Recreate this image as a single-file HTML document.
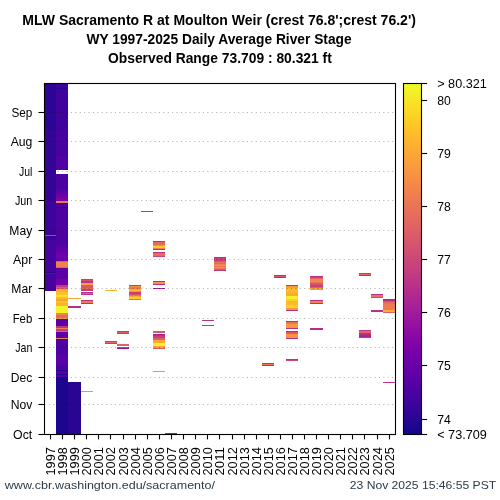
<!DOCTYPE html>
<html><head><meta charset="utf-8"><style>
html,body{margin:0;padding:0;background:#fff;width:500px;height:500px;overflow:hidden}
svg{display:block;will-change:transform}
text{font-family:"Liberation Sans", sans-serif}
</style></head><body><svg width="500" height="500" viewBox="0 0 500 500" font-family='"Liberation Sans", sans-serif'><rect x="45" y="84" width="11" height="46" fill="#2c0594" shape-rendering="crispEdges"/>
<rect x="45" y="130" width="11" height="70" fill="#330597" shape-rendering="crispEdges"/>
<rect x="45" y="200" width="11" height="40" fill="#3c049b" shape-rendering="crispEdges"/>
<rect x="45" y="240" width="11" height="32" fill="#46039f" shape-rendering="crispEdges"/>
<rect x="45" y="272" width="11" height="1" fill="#280592" shape-rendering="crispEdges"/>
<rect x="45" y="273" width="11" height="1" fill="#6700a8" shape-rendering="crispEdges"/>
<rect x="45" y="274" width="11" height="17" fill="#46039f" shape-rendering="crispEdges"/>
<rect x="45" y="235" width="11" height="1" fill="#bf3984" shape-rendering="crispEdges"/>
<rect x="56" y="84" width="12" height="4" fill="#3c049b" shape-rendering="crispEdges"/>
<rect x="56" y="88" width="12" height="1" fill="#280592" shape-rendering="crispEdges"/>
<rect x="56" y="89" width="12" height="41" fill="#3f049c" shape-rendering="crispEdges"/>
<rect x="56" y="130" width="12" height="26" fill="#46039f" shape-rendering="crispEdges"/>
<rect x="56" y="156" width="12" height="14" fill="#5002a2" shape-rendering="crispEdges"/>
<rect x="56" y="174" width="12" height="15" fill="#4c02a1" shape-rendering="crispEdges"/>
<rect x="56" y="189" width="12" height="1" fill="#5102a3" shape-rendering="crispEdges"/>
<rect x="56" y="190" width="12" height="1" fill="#5601a4" shape-rendering="crispEdges"/>
<rect x="56" y="191" width="12" height="1" fill="#5b01a5" shape-rendering="crispEdges"/>
<rect x="56" y="192" width="12" height="1" fill="#6001a6" shape-rendering="crispEdges"/>
<rect x="56" y="193" width="12" height="1" fill="#6400a7" shape-rendering="crispEdges"/>
<rect x="56" y="194" width="12" height="1" fill="#6900a8" shape-rendering="crispEdges"/>
<rect x="56" y="195" width="12" height="1" fill="#6e00a8" shape-rendering="crispEdges"/>
<rect x="56" y="196" width="12" height="1" fill="#7201a8" shape-rendering="crispEdges"/>
<rect x="56" y="197" width="12" height="1" fill="#7701a8" shape-rendering="crispEdges"/>
<rect x="56" y="198" width="12" height="1" fill="#7b02a8" shape-rendering="crispEdges"/>
<rect x="56" y="199" width="12" height="1" fill="#7e03a8" shape-rendering="crispEdges"/>
<rect x="56" y="200" width="12" height="1" fill="#8305a7" shape-rendering="crispEdges"/>
<rect x="56" y="201" width="12" height="2" fill="#ed7953" shape-rendering="crispEdges"/>
<rect x="56" y="203" width="12" height="4" fill="#5002a2" shape-rendering="crispEdges"/>
<rect x="56" y="207" width="12" height="1" fill="#20068f" shape-rendering="crispEdges"/>
<rect x="56" y="208" width="12" height="37" fill="#4c02a1" shape-rendering="crispEdges"/>
<rect x="56" y="245" width="12" height="1" fill="#5102a3" shape-rendering="crispEdges"/>
<rect x="56" y="246" width="12" height="1" fill="#5502a4" shape-rendering="crispEdges"/>
<rect x="56" y="247" width="12" height="1" fill="#5801a4" shape-rendering="crispEdges"/>
<rect x="56" y="248" width="12" height="1" fill="#5b01a5" shape-rendering="crispEdges"/>
<rect x="56" y="249" width="12" height="1" fill="#5e01a6" shape-rendering="crispEdges"/>
<rect x="56" y="250" width="12" height="1" fill="#6100a7" shape-rendering="crispEdges"/>
<rect x="56" y="251" width="12" height="1" fill="#6600a7" shape-rendering="crispEdges"/>
<rect x="56" y="252" width="12" height="1" fill="#6900a8" shape-rendering="crispEdges"/>
<rect x="56" y="253" width="12" height="1" fill="#6c00a8" shape-rendering="crispEdges"/>
<rect x="56" y="254" width="12" height="1" fill="#6f00a8" shape-rendering="crispEdges"/>
<rect x="56" y="255" width="12" height="1" fill="#7201a8" shape-rendering="crispEdges"/>
<rect x="56" y="256" width="12" height="1" fill="#7501a8" shape-rendering="crispEdges"/>
<rect x="56" y="257" width="12" height="1" fill="#7801a8" shape-rendering="crispEdges"/>
<rect x="56" y="258" width="12" height="3" fill="#6700a8" shape-rendering="crispEdges"/>
<rect x="56" y="261" width="12" height="1" fill="#d8576b" shape-rendering="crispEdges"/>
<rect x="56" y="262" width="12" height="5" fill="#f1814d" shape-rendering="crispEdges"/>
<rect x="56" y="267" width="12" height="1" fill="#de6164" shape-rendering="crispEdges"/>
<rect x="56" y="268" width="12" height="11" fill="#5c01a6" shape-rendering="crispEdges"/>
<rect x="56" y="279" width="12" height="6" fill="#7401a8" shape-rendering="crispEdges"/>
<rect x="56" y="285" width="12" height="2" fill="#bf3984" shape-rendering="crispEdges"/>
<rect x="56" y="287" width="12" height="2" fill="#db5c68" shape-rendering="crispEdges"/>
<rect x="56" y="289" width="12" height="1" fill="#fa9c3c" shape-rendering="crispEdges"/>
<rect x="56" y="290" width="12" height="2" fill="#fdac33" shape-rendering="crispEdges"/>
<rect x="56" y="292" width="12" height="3" fill="#fdc229" shape-rendering="crispEdges"/>
<rect x="56" y="295" width="12" height="2" fill="#f7e425" shape-rendering="crispEdges"/>
<rect x="56" y="297" width="12" height="2" fill="#feb82c" shape-rendering="crispEdges"/>
<rect x="56" y="299" width="12" height="2" fill="#fba139" shape-rendering="crispEdges"/>
<rect x="56" y="301" width="12" height="2" fill="#fdc229" shape-rendering="crispEdges"/>
<rect x="56" y="303" width="12" height="3" fill="#fdb22f" shape-rendering="crispEdges"/>
<rect x="56" y="306" width="12" height="7" fill="#f2f227" shape-rendering="crispEdges"/>
<rect x="56" y="313" width="12" height="2" fill="#f1814d" shape-rendering="crispEdges"/>
<rect x="56" y="315" width="12" height="3" fill="#e56a5d" shape-rendering="crispEdges"/>
<rect x="56" y="318" width="12" height="1" fill="#fba139" shape-rendering="crispEdges"/>
<rect x="56" y="319" width="12" height="7" fill="#5c01a6" shape-rendering="crispEdges"/>
<rect x="56" y="326" width="12" height="2" fill="#bb3488" shape-rendering="crispEdges"/>
<rect x="56" y="328" width="12" height="1" fill="#f1814d" shape-rendering="crispEdges"/>
<rect x="56" y="329" width="12" height="2" fill="#c33d80" shape-rendering="crispEdges"/>
<rect x="56" y="331" width="12" height="1" fill="#de6164" shape-rendering="crispEdges"/>
<rect x="56" y="332" width="12" height="6" fill="#5c01a6" shape-rendering="crispEdges"/>
<rect x="56" y="338" width="12" height="1" fill="#ef7c51" shape-rendering="crispEdges"/>
<rect x="56" y="339" width="12" height="16" fill="#4c02a1" shape-rendering="crispEdges"/>
<rect x="56" y="355" width="12" height="10" fill="#5901a5" shape-rendering="crispEdges"/>
<rect x="56" y="365" width="12" height="5" fill="#4c02a1" shape-rendering="crispEdges"/>
<rect x="56" y="370" width="12" height="1" fill="#280592" shape-rendering="crispEdges"/>
<rect x="56" y="371" width="12" height="3" fill="#5002a2" shape-rendering="crispEdges"/>
<rect x="56" y="374" width="12" height="1" fill="#280592" shape-rendering="crispEdges"/>
<rect x="56" y="375" width="12" height="2" fill="#5002a2" shape-rendering="crispEdges"/>
<rect x="56" y="377" width="12" height="57" fill="#1b068d" shape-rendering="crispEdges"/>
<rect x="68" y="298" width="13" height="1" fill="#fca636" shape-rendering="crispEdges"/>
<rect x="68" y="306" width="13" height="2" fill="#b32c8e" shape-rendering="crispEdges"/>
<rect x="68" y="382" width="13" height="52" fill="#280592" shape-rendering="crispEdges"/>
<rect x="81" y="279" width="12" height="1" fill="#c33d80" shape-rendering="crispEdges"/>
<rect x="81" y="280" width="12" height="1" fill="#d24f71" shape-rendering="crispEdges"/>
<rect x="81" y="281" width="12" height="2" fill="#bb3488" shape-rendering="crispEdges"/>
<rect x="81" y="283" width="12" height="2" fill="#fba139" shape-rendering="crispEdges"/>
<rect x="81" y="285" width="12" height="3" fill="#d8576b" shape-rendering="crispEdges"/>
<rect x="81" y="288" width="12" height="1" fill="#e76f5a" shape-rendering="crispEdges"/>
<rect x="81" y="289" width="12" height="2" fill="#c33d80" shape-rendering="crispEdges"/>
<rect x="81" y="292" width="12" height="1" fill="#b7318a" shape-rendering="crispEdges"/>
<rect x="81" y="293" width="12" height="1" fill="#e26561" shape-rendering="crispEdges"/>
<rect x="81" y="294" width="12" height="1" fill="#b7318a" shape-rendering="crispEdges"/>
<rect x="81" y="300" width="12" height="1" fill="#b7318a" shape-rendering="crispEdges"/>
<rect x="81" y="301" width="12" height="2" fill="#ed7953" shape-rendering="crispEdges"/>
<rect x="81" y="303" width="12" height="1" fill="#b7318a" shape-rendering="crispEdges"/>
<rect x="81" y="391" width="12" height="1" fill="#f79143" shape-rendering="crispEdges"/>
<rect x="105" y="290" width="12" height="1" fill="#fdaf31" shape-rendering="crispEdges"/>
<rect x="105" y="341" width="12" height="1" fill="#bf3984" shape-rendering="crispEdges"/>
<rect x="105" y="342" width="12" height="1" fill="#e56a5d" shape-rendering="crispEdges"/>
<rect x="105" y="343" width="12" height="1" fill="#c33d80" shape-rendering="crispEdges"/>
<rect x="117" y="331" width="12" height="1" fill="#bf3984" shape-rendering="crispEdges"/>
<rect x="117" y="332" width="12" height="1" fill="#de6164" shape-rendering="crispEdges"/>
<rect x="117" y="333" width="12" height="1" fill="#c33d80" shape-rendering="crispEdges"/>
<rect x="117" y="344" width="12" height="2" fill="#de6164" shape-rendering="crispEdges"/>
<rect x="117" y="347" width="12" height="1" fill="#cb4679" shape-rendering="crispEdges"/>
<rect x="117" y="348" width="12" height="1" fill="#9511a1" shape-rendering="crispEdges"/>
<rect x="129" y="285" width="12" height="1" fill="#bf3984" shape-rendering="crispEdges"/>
<rect x="129" y="286" width="12" height="1" fill="#f79143" shape-rendering="crispEdges"/>
<rect x="129" y="287" width="12" height="1" fill="#ea7457" shape-rendering="crispEdges"/>
<rect x="129" y="288" width="12" height="1" fill="#ed7953" shape-rendering="crispEdges"/>
<rect x="129" y="289" width="12" height="1" fill="#fca636" shape-rendering="crispEdges"/>
<rect x="129" y="290" width="12" height="1" fill="#febe2a" shape-rendering="crispEdges"/>
<rect x="129" y="291" width="12" height="1" fill="#f79143" shape-rendering="crispEdges"/>
<rect x="129" y="292" width="12" height="1" fill="#c7427c" shape-rendering="crispEdges"/>
<rect x="129" y="293" width="12" height="1" fill="#bf3984" shape-rendering="crispEdges"/>
<rect x="129" y="294" width="12" height="1" fill="#d5546e" shape-rendering="crispEdges"/>
<rect x="129" y="295" width="12" height="1" fill="#ea7457" shape-rendering="crispEdges"/>
<rect x="129" y="296" width="12" height="1" fill="#fca636" shape-rendering="crispEdges"/>
<rect x="129" y="297" width="12" height="2" fill="#fcd025" shape-rendering="crispEdges"/>
<rect x="129" y="299" width="12" height="1" fill="#e56a5d" shape-rendering="crispEdges"/>
<rect x="141" y="211" width="12" height="1" fill="#b7318a" shape-rendering="crispEdges"/>
<rect x="153" y="241" width="12" height="1" fill="#b7318a" shape-rendering="crispEdges"/>
<rect x="153" y="242" width="12" height="3" fill="#e56a5d" shape-rendering="crispEdges"/>
<rect x="153" y="245" width="12" height="1" fill="#f79143" shape-rendering="crispEdges"/>
<rect x="153" y="246" width="12" height="2" fill="#fdcb26" shape-rendering="crispEdges"/>
<rect x="153" y="248" width="12" height="1" fill="#f1814d" shape-rendering="crispEdges"/>
<rect x="153" y="249" width="12" height="1" fill="#b7318a" shape-rendering="crispEdges"/>
<rect x="153" y="252" width="12" height="1" fill="#b7318a" shape-rendering="crispEdges"/>
<rect x="153" y="253" width="12" height="3" fill="#e56a5d" shape-rendering="crispEdges"/>
<rect x="153" y="256" width="12" height="1" fill="#cb4679" shape-rendering="crispEdges"/>
<rect x="153" y="281" width="12" height="1" fill="#b7318a" shape-rendering="crispEdges"/>
<rect x="153" y="282" width="12" height="2" fill="#f79143" shape-rendering="crispEdges"/>
<rect x="153" y="284" width="12" height="1" fill="#b7318a" shape-rendering="crispEdges"/>
<rect x="153" y="288" width="12" height="1" fill="#aa2395" shape-rendering="crispEdges"/>
<rect x="153" y="331" width="12" height="2" fill="#d8576b" shape-rendering="crispEdges"/>
<rect x="153" y="334" width="12" height="1" fill="#aa2395" shape-rendering="crispEdges"/>
<rect x="153" y="335" width="12" height="1" fill="#b32c8e" shape-rendering="crispEdges"/>
<rect x="153" y="336" width="12" height="2" fill="#c7427c" shape-rendering="crispEdges"/>
<rect x="153" y="338" width="12" height="2" fill="#de6164" shape-rendering="crispEdges"/>
<rect x="153" y="340" width="12" height="3" fill="#fca636" shape-rendering="crispEdges"/>
<rect x="153" y="343" width="12" height="3" fill="#f2f227" shape-rendering="crispEdges"/>
<rect x="153" y="346" width="12" height="2" fill="#fca636" shape-rendering="crispEdges"/>
<rect x="153" y="348" width="12" height="1" fill="#db5c68" shape-rendering="crispEdges"/>
<rect x="153" y="371" width="12" height="1" fill="#f79143" shape-rendering="crispEdges"/>
<rect x="165" y="433" width="12" height="1" fill="#a01a9c" shape-rendering="crispEdges"/>
<rect x="202" y="320" width="12" height="1" fill="#b7318a" shape-rendering="crispEdges"/>
<rect x="202" y="325" width="12" height="1" fill="#bf3984" shape-rendering="crispEdges"/>
<rect x="214" y="257" width="12" height="1" fill="#b7318a" shape-rendering="crispEdges"/>
<rect x="214" y="258" width="12" height="3" fill="#c7427c" shape-rendering="crispEdges"/>
<rect x="214" y="261" width="12" height="1" fill="#d8576b" shape-rendering="crispEdges"/>
<rect x="214" y="262" width="12" height="1" fill="#ea7457" shape-rendering="crispEdges"/>
<rect x="214" y="263" width="12" height="1" fill="#e56a5d" shape-rendering="crispEdges"/>
<rect x="214" y="264" width="12" height="1" fill="#f1814d" shape-rendering="crispEdges"/>
<rect x="214" y="265" width="12" height="1" fill="#f79143" shape-rendering="crispEdges"/>
<rect x="214" y="266" width="12" height="1" fill="#ea7457" shape-rendering="crispEdges"/>
<rect x="214" y="267" width="12" height="1" fill="#f79143" shape-rendering="crispEdges"/>
<rect x="214" y="268" width="12" height="1" fill="#ed7953" shape-rendering="crispEdges"/>
<rect x="214" y="269" width="12" height="1" fill="#d8576b" shape-rendering="crispEdges"/>
<rect x="214" y="270" width="12" height="1" fill="#bf3984" shape-rendering="crispEdges"/>
<rect x="262" y="363" width="12" height="1" fill="#b7318a" shape-rendering="crispEdges"/>
<rect x="262" y="364" width="12" height="1" fill="#ed7953" shape-rendering="crispEdges"/>
<rect x="262" y="365" width="12" height="1" fill="#b7318a" shape-rendering="crispEdges"/>
<rect x="274" y="275" width="12" height="1" fill="#b7318a" shape-rendering="crispEdges"/>
<rect x="274" y="276" width="12" height="1" fill="#d5546e" shape-rendering="crispEdges"/>
<rect x="274" y="277" width="12" height="1" fill="#b7318a" shape-rendering="crispEdges"/>
<rect x="286" y="285" width="12" height="1" fill="#b7318a" shape-rendering="crispEdges"/>
<rect x="286" y="286" width="12" height="2" fill="#fa9c3c" shape-rendering="crispEdges"/>
<rect x="286" y="288" width="12" height="5" fill="#feb82c" shape-rendering="crispEdges"/>
<rect x="286" y="293" width="12" height="3" fill="#fdac33" shape-rendering="crispEdges"/>
<rect x="286" y="296" width="12" height="3" fill="#f2f227" shape-rendering="crispEdges"/>
<rect x="286" y="299" width="12" height="2" fill="#fcd025" shape-rendering="crispEdges"/>
<rect x="286" y="301" width="12" height="4" fill="#feb82c" shape-rendering="crispEdges"/>
<rect x="286" y="305" width="12" height="3" fill="#fcd025" shape-rendering="crispEdges"/>
<rect x="286" y="308" width="12" height="2" fill="#f9973f" shape-rendering="crispEdges"/>
<rect x="286" y="310" width="12" height="1" fill="#b7318a" shape-rendering="crispEdges"/>
<rect x="286" y="321" width="12" height="1" fill="#b7318a" shape-rendering="crispEdges"/>
<rect x="286" y="322" width="12" height="2" fill="#ea7457" shape-rendering="crispEdges"/>
<rect x="286" y="324" width="12" height="4" fill="#f9973f" shape-rendering="crispEdges"/>
<rect x="286" y="328" width="12" height="1" fill="#b7318a" shape-rendering="crispEdges"/>
<rect x="286" y="331" width="12" height="1" fill="#b7318a" shape-rendering="crispEdges"/>
<rect x="286" y="332" width="12" height="2" fill="#db5c68" shape-rendering="crispEdges"/>
<rect x="286" y="334" width="12" height="4" fill="#f79143" shape-rendering="crispEdges"/>
<rect x="286" y="338" width="12" height="1" fill="#b7318a" shape-rendering="crispEdges"/>
<rect x="286" y="359" width="12" height="1" fill="#b7318a" shape-rendering="crispEdges"/>
<rect x="286" y="360" width="12" height="1" fill="#cb4679" shape-rendering="crispEdges"/>
<rect x="310" y="276" width="13" height="1" fill="#b7318a" shape-rendering="crispEdges"/>
<rect x="310" y="277" width="13" height="1" fill="#cb4679" shape-rendering="crispEdges"/>
<rect x="310" y="278" width="13" height="1" fill="#de6164" shape-rendering="crispEdges"/>
<rect x="310" y="279" width="13" height="3" fill="#f3874a" shape-rendering="crispEdges"/>
<rect x="310" y="282" width="13" height="1" fill="#ea7457" shape-rendering="crispEdges"/>
<rect x="310" y="283" width="13" height="2" fill="#d5546e" shape-rendering="crispEdges"/>
<rect x="310" y="285" width="13" height="2" fill="#c7427c" shape-rendering="crispEdges"/>
<rect x="310" y="287" width="13" height="1" fill="#de6164" shape-rendering="crispEdges"/>
<rect x="310" y="288" width="13" height="1" fill="#fca636" shape-rendering="crispEdges"/>
<rect x="310" y="289" width="13" height="1" fill="#f79143" shape-rendering="crispEdges"/>
<rect x="310" y="300" width="13" height="1" fill="#b7318a" shape-rendering="crispEdges"/>
<rect x="310" y="301" width="13" height="2" fill="#f1814d" shape-rendering="crispEdges"/>
<rect x="310" y="303" width="13" height="1" fill="#b7318a" shape-rendering="crispEdges"/>
<rect x="310" y="328" width="13" height="2" fill="#b32c8e" shape-rendering="crispEdges"/>
<rect x="359" y="273" width="12" height="1" fill="#c33d80" shape-rendering="crispEdges"/>
<rect x="359" y="274" width="12" height="1" fill="#e26561" shape-rendering="crispEdges"/>
<rect x="359" y="275" width="12" height="1" fill="#b7318a" shape-rendering="crispEdges"/>
<rect x="359" y="330" width="12" height="1" fill="#c33d80" shape-rendering="crispEdges"/>
<rect x="359" y="331" width="12" height="2" fill="#e26561" shape-rendering="crispEdges"/>
<rect x="359" y="333" width="12" height="2" fill="#b7318a" shape-rendering="crispEdges"/>
<rect x="359" y="335" width="12" height="2" fill="#aa2395" shape-rendering="crispEdges"/>
<rect x="359" y="337" width="12" height="1" fill="#bf3984" shape-rendering="crispEdges"/>
<rect x="371" y="294" width="12" height="1" fill="#b7318a" shape-rendering="crispEdges"/>
<rect x="371" y="295" width="12" height="2" fill="#ea7457" shape-rendering="crispEdges"/>
<rect x="371" y="297" width="12" height="1" fill="#cb4679" shape-rendering="crispEdges"/>
<rect x="371" y="310" width="12" height="2" fill="#b7318a" shape-rendering="crispEdges"/>
<rect x="383" y="299" width="12" height="1" fill="#aa2395" shape-rendering="crispEdges"/>
<rect x="383" y="300" width="12" height="1" fill="#b7318a" shape-rendering="crispEdges"/>
<rect x="383" y="301" width="12" height="1" fill="#d24f71" shape-rendering="crispEdges"/>
<rect x="383" y="302" width="12" height="2" fill="#e76f5a" shape-rendering="crispEdges"/>
<rect x="383" y="304" width="12" height="6" fill="#ed7a52" shape-rendering="crispEdges"/>
<rect x="383" y="310" width="12" height="2" fill="#fdac33" shape-rendering="crispEdges"/>
<rect x="383" y="312" width="12" height="1" fill="#de6164" shape-rendering="crispEdges"/>
<rect x="383" y="382" width="12" height="1" fill="#b7318a" shape-rendering="crispEdges"/>
<line x1="44.5" y1="404.50" x2="395.5" y2="404.50" stroke="#000" stroke-opacity="0.3" stroke-width="1.1" stroke-dasharray="1.1 3.3"/>
<line x1="44.5" y1="377.50" x2="395.5" y2="377.50" stroke="#000" stroke-opacity="0.3" stroke-width="1.1" stroke-dasharray="1.1 3.3"/>
<line x1="44.5" y1="347.50" x2="395.5" y2="347.50" stroke="#000" stroke-opacity="0.3" stroke-width="1.1" stroke-dasharray="1.1 3.3"/>
<line x1="44.5" y1="318.50" x2="395.5" y2="318.50" stroke="#000" stroke-opacity="0.3" stroke-width="1.1" stroke-dasharray="1.1 3.3"/>
<line x1="44.5" y1="288.50" x2="395.5" y2="288.50" stroke="#000" stroke-opacity="0.3" stroke-width="1.1" stroke-dasharray="1.1 3.3"/>
<line x1="44.5" y1="259.50" x2="395.5" y2="259.50" stroke="#000" stroke-opacity="0.3" stroke-width="1.1" stroke-dasharray="1.1 3.3"/>
<line x1="44.5" y1="230.50" x2="395.5" y2="230.50" stroke="#000" stroke-opacity="0.3" stroke-width="1.1" stroke-dasharray="1.1 3.3"/>
<line x1="44.5" y1="200.50" x2="395.5" y2="200.50" stroke="#000" stroke-opacity="0.3" stroke-width="1.1" stroke-dasharray="1.1 3.3"/>
<line x1="44.5" y1="171.50" x2="395.5" y2="171.50" stroke="#000" stroke-opacity="0.3" stroke-width="1.1" stroke-dasharray="1.1 3.3"/>
<line x1="44.5" y1="141.50" x2="395.5" y2="141.50" stroke="#000" stroke-opacity="0.3" stroke-width="1.1" stroke-dasharray="1.1 3.3"/>
<line x1="44.5" y1="112.50" x2="395.5" y2="112.50" stroke="#000" stroke-opacity="0.3" stroke-width="1.1" stroke-dasharray="1.1 3.3"/>
<rect x="44.5" y="83.5" width="351.0" height="351.0" fill="none" stroke="#000" stroke-width="1.1"/>
<line x1="38.50" y1="434.50" x2="44.5" y2="434.50" stroke="#000" stroke-width="1.1"/>
<text x="32.30" y="439.10" text-anchor="end" font-size="12.2" textLength="19.19" lengthAdjust="spacingAndGlyphs">Oct</text>
<line x1="38.50" y1="404.50" x2="44.5" y2="404.50" stroke="#000" stroke-width="1.1"/>
<text x="32.30" y="409.10" text-anchor="end" font-size="12.2" textLength="21.66" lengthAdjust="spacingAndGlyphs">Nov</text>
<line x1="38.50" y1="377.50" x2="44.5" y2="377.50" stroke="#000" stroke-width="1.1"/>
<text x="32.30" y="382.10" text-anchor="end" font-size="12.2" textLength="21.48" lengthAdjust="spacingAndGlyphs">Dec</text>
<line x1="38.50" y1="347.50" x2="44.5" y2="347.50" stroke="#000" stroke-width="1.1"/>
<text x="32.30" y="352.10" text-anchor="end" font-size="12.2" textLength="17.11" lengthAdjust="spacingAndGlyphs">Jan</text>
<line x1="38.50" y1="318.50" x2="44.5" y2="318.50" stroke="#000" stroke-width="1.1"/>
<text x="32.30" y="323.10" text-anchor="end" font-size="12.2" textLength="19.65" lengthAdjust="spacingAndGlyphs">Feb</text>
<line x1="38.50" y1="288.50" x2="44.5" y2="288.50" stroke="#000" stroke-width="1.1"/>
<text x="32.30" y="293.10" text-anchor="end" font-size="12.2" textLength="20.94" lengthAdjust="spacingAndGlyphs">Mar</text>
<line x1="38.50" y1="259.50" x2="44.5" y2="259.50" stroke="#000" stroke-width="1.1"/>
<text x="32.30" y="264.10" text-anchor="end" font-size="12.2" textLength="19.20" lengthAdjust="spacingAndGlyphs">Apr</text>
<line x1="38.50" y1="230.50" x2="44.5" y2="230.50" stroke="#000" stroke-width="1.1"/>
<text x="32.30" y="235.10" text-anchor="end" font-size="12.2" textLength="22.95" lengthAdjust="spacingAndGlyphs">May</text>
<line x1="38.50" y1="200.50" x2="44.5" y2="200.50" stroke="#000" stroke-width="1.1"/>
<text x="32.30" y="205.10" text-anchor="end" font-size="12.2" textLength="17.34" lengthAdjust="spacingAndGlyphs">Jun</text>
<line x1="38.50" y1="171.50" x2="44.5" y2="171.50" stroke="#000" stroke-width="1.1"/>
<text x="32.30" y="176.10" text-anchor="end" font-size="12.2" textLength="13.39" lengthAdjust="spacingAndGlyphs">Jul</text>
<line x1="38.50" y1="141.50" x2="44.5" y2="141.50" stroke="#000" stroke-width="1.1"/>
<text x="32.30" y="146.10" text-anchor="end" font-size="12.2" textLength="21.67" lengthAdjust="spacingAndGlyphs">Aug</text>
<line x1="38.50" y1="112.50" x2="44.5" y2="112.50" stroke="#000" stroke-width="1.1"/>
<text x="32.30" y="117.10" text-anchor="end" font-size="12.2" textLength="20.92" lengthAdjust="spacingAndGlyphs">Sep</text>
<line x1="50.50" y1="434.5" x2="50.50" y2="439.40" stroke="#000" stroke-width="1.1"/>
<text transform="translate(54.50,447.20) rotate(-90)" text-anchor="end" font-size="12.2" textLength="28.25" lengthAdjust="spacingAndGlyphs">1997</text>
<line x1="62.50" y1="434.5" x2="62.50" y2="439.40" stroke="#000" stroke-width="1.1"/>
<text transform="translate(66.50,447.20) rotate(-90)" text-anchor="end" font-size="12.2" textLength="28.25" lengthAdjust="spacingAndGlyphs">1998</text>
<line x1="74.50" y1="434.5" x2="74.50" y2="439.40" stroke="#000" stroke-width="1.1"/>
<text transform="translate(78.50,447.20) rotate(-90)" text-anchor="end" font-size="12.2" textLength="28.25" lengthAdjust="spacingAndGlyphs">1999</text>
<line x1="86.50" y1="434.5" x2="86.50" y2="439.40" stroke="#000" stroke-width="1.1"/>
<text transform="translate(90.50,447.20) rotate(-90)" text-anchor="end" font-size="12.2" textLength="28.25" lengthAdjust="spacingAndGlyphs">2000</text>
<line x1="98.50" y1="434.5" x2="98.50" y2="439.40" stroke="#000" stroke-width="1.1"/>
<text transform="translate(102.50,447.20) rotate(-90)" text-anchor="end" font-size="12.2" textLength="28.25" lengthAdjust="spacingAndGlyphs">2001</text>
<line x1="110.50" y1="434.5" x2="110.50" y2="439.40" stroke="#000" stroke-width="1.1"/>
<text transform="translate(114.50,447.20) rotate(-90)" text-anchor="end" font-size="12.2" textLength="28.25" lengthAdjust="spacingAndGlyphs">2002</text>
<line x1="123.50" y1="434.5" x2="123.50" y2="439.40" stroke="#000" stroke-width="1.1"/>
<text transform="translate(127.50,447.20) rotate(-90)" text-anchor="end" font-size="12.2" textLength="28.25" lengthAdjust="spacingAndGlyphs">2003</text>
<line x1="135.50" y1="434.5" x2="135.50" y2="439.40" stroke="#000" stroke-width="1.1"/>
<text transform="translate(139.50,447.20) rotate(-90)" text-anchor="end" font-size="12.2" textLength="28.25" lengthAdjust="spacingAndGlyphs">2004</text>
<line x1="147.50" y1="434.5" x2="147.50" y2="439.40" stroke="#000" stroke-width="1.1"/>
<text transform="translate(151.50,447.20) rotate(-90)" text-anchor="end" font-size="12.2" textLength="28.25" lengthAdjust="spacingAndGlyphs">2005</text>
<line x1="159.50" y1="434.5" x2="159.50" y2="439.40" stroke="#000" stroke-width="1.1"/>
<text transform="translate(163.50,447.20) rotate(-90)" text-anchor="end" font-size="12.2" textLength="28.25" lengthAdjust="spacingAndGlyphs">2006</text>
<line x1="171.50" y1="434.5" x2="171.50" y2="439.40" stroke="#000" stroke-width="1.1"/>
<text transform="translate(175.50,447.20) rotate(-90)" text-anchor="end" font-size="12.2" textLength="28.25" lengthAdjust="spacingAndGlyphs">2007</text>
<line x1="183.50" y1="434.5" x2="183.50" y2="439.40" stroke="#000" stroke-width="1.1"/>
<text transform="translate(187.50,447.20) rotate(-90)" text-anchor="end" font-size="12.2" textLength="28.25" lengthAdjust="spacingAndGlyphs">2008</text>
<line x1="195.50" y1="434.5" x2="195.50" y2="439.40" stroke="#000" stroke-width="1.1"/>
<text transform="translate(199.50,447.20) rotate(-90)" text-anchor="end" font-size="12.2" textLength="28.25" lengthAdjust="spacingAndGlyphs">2009</text>
<line x1="207.50" y1="434.5" x2="207.50" y2="439.40" stroke="#000" stroke-width="1.1"/>
<text transform="translate(211.50,447.20) rotate(-90)" text-anchor="end" font-size="12.2" textLength="28.25" lengthAdjust="spacingAndGlyphs">2010</text>
<line x1="219.50" y1="434.5" x2="219.50" y2="439.40" stroke="#000" stroke-width="1.1"/>
<text transform="translate(223.50,447.20) rotate(-90)" text-anchor="end" font-size="12.2" textLength="28.25" lengthAdjust="spacingAndGlyphs">2011</text>
<line x1="232.50" y1="434.5" x2="232.50" y2="439.40" stroke="#000" stroke-width="1.1"/>
<text transform="translate(236.50,447.20) rotate(-90)" text-anchor="end" font-size="12.2" textLength="28.25" lengthAdjust="spacingAndGlyphs">2012</text>
<line x1="244.50" y1="434.5" x2="244.50" y2="439.40" stroke="#000" stroke-width="1.1"/>
<text transform="translate(248.50,447.20) rotate(-90)" text-anchor="end" font-size="12.2" textLength="28.25" lengthAdjust="spacingAndGlyphs">2013</text>
<line x1="256.50" y1="434.5" x2="256.50" y2="439.40" stroke="#000" stroke-width="1.1"/>
<text transform="translate(260.50,447.20) rotate(-90)" text-anchor="end" font-size="12.2" textLength="28.25" lengthAdjust="spacingAndGlyphs">2014</text>
<line x1="268.50" y1="434.5" x2="268.50" y2="439.40" stroke="#000" stroke-width="1.1"/>
<text transform="translate(272.50,447.20) rotate(-90)" text-anchor="end" font-size="12.2" textLength="28.25" lengthAdjust="spacingAndGlyphs">2015</text>
<line x1="280.50" y1="434.5" x2="280.50" y2="439.40" stroke="#000" stroke-width="1.1"/>
<text transform="translate(284.50,447.20) rotate(-90)" text-anchor="end" font-size="12.2" textLength="28.25" lengthAdjust="spacingAndGlyphs">2016</text>
<line x1="292.50" y1="434.5" x2="292.50" y2="439.40" stroke="#000" stroke-width="1.1"/>
<text transform="translate(296.50,447.20) rotate(-90)" text-anchor="end" font-size="12.2" textLength="28.25" lengthAdjust="spacingAndGlyphs">2017</text>
<line x1="304.50" y1="434.5" x2="304.50" y2="439.40" stroke="#000" stroke-width="1.1"/>
<text transform="translate(308.50,447.20) rotate(-90)" text-anchor="end" font-size="12.2" textLength="28.25" lengthAdjust="spacingAndGlyphs">2018</text>
<line x1="316.50" y1="434.5" x2="316.50" y2="439.40" stroke="#000" stroke-width="1.1"/>
<text transform="translate(320.50,447.20) rotate(-90)" text-anchor="end" font-size="12.2" textLength="28.25" lengthAdjust="spacingAndGlyphs">2019</text>
<line x1="328.50" y1="434.5" x2="328.50" y2="439.40" stroke="#000" stroke-width="1.1"/>
<text transform="translate(332.50,447.20) rotate(-90)" text-anchor="end" font-size="12.2" textLength="28.25" lengthAdjust="spacingAndGlyphs">2020</text>
<line x1="340.50" y1="434.5" x2="340.50" y2="439.40" stroke="#000" stroke-width="1.1"/>
<text transform="translate(344.50,447.20) rotate(-90)" text-anchor="end" font-size="12.2" textLength="28.25" lengthAdjust="spacingAndGlyphs">2021</text>
<line x1="352.50" y1="434.5" x2="352.50" y2="439.40" stroke="#000" stroke-width="1.1"/>
<text transform="translate(356.50,447.20) rotate(-90)" text-anchor="end" font-size="12.2" textLength="28.25" lengthAdjust="spacingAndGlyphs">2022</text>
<line x1="364.50" y1="434.5" x2="364.50" y2="439.40" stroke="#000" stroke-width="1.1"/>
<text transform="translate(368.50,447.20) rotate(-90)" text-anchor="end" font-size="12.2" textLength="28.25" lengthAdjust="spacingAndGlyphs">2023</text>
<line x1="377.50" y1="434.5" x2="377.50" y2="439.40" stroke="#000" stroke-width="1.1"/>
<text transform="translate(381.50,447.20) rotate(-90)" text-anchor="end" font-size="12.2" textLength="28.25" lengthAdjust="spacingAndGlyphs">2024</text>
<line x1="389.50" y1="434.5" x2="389.50" y2="439.40" stroke="#000" stroke-width="1.1"/>
<text transform="translate(393.50,447.20) rotate(-90)" text-anchor="end" font-size="12.2" textLength="28.25" lengthAdjust="spacingAndGlyphs">2025</text>
<defs><linearGradient id="cb" x1="0" y1="0" x2="0" y2="1"><stop offset="0.0000" stop-color="#f0f921"/><stop offset="0.0156" stop-color="#f1f426"/><stop offset="0.0312" stop-color="#f4ed27"/><stop offset="0.0469" stop-color="#f6e626"/><stop offset="0.0625" stop-color="#f8df25"/><stop offset="0.0781" stop-color="#fad824"/><stop offset="0.0938" stop-color="#fcd225"/><stop offset="0.1094" stop-color="#fdcb26"/><stop offset="0.1250" stop-color="#fdc527"/><stop offset="0.1406" stop-color="#febe2a"/><stop offset="0.1562" stop-color="#feb82c"/><stop offset="0.1719" stop-color="#fdb22f"/><stop offset="0.1875" stop-color="#fdac33"/><stop offset="0.2031" stop-color="#fca636"/><stop offset="0.2188" stop-color="#fba139"/><stop offset="0.2344" stop-color="#fa9b3d"/><stop offset="0.2500" stop-color="#f89540"/><stop offset="0.2656" stop-color="#f79044"/><stop offset="0.2812" stop-color="#f58b47"/><stop offset="0.2969" stop-color="#f3854b"/><stop offset="0.3125" stop-color="#f0804e"/><stop offset="0.3281" stop-color="#ee7b51"/><stop offset="0.3438" stop-color="#eb7655"/><stop offset="0.3594" stop-color="#e97158"/><stop offset="0.3750" stop-color="#e66c5c"/><stop offset="0.3906" stop-color="#e3685f"/><stop offset="0.4062" stop-color="#e06363"/><stop offset="0.4219" stop-color="#dd5e66"/><stop offset="0.4375" stop-color="#da5a6a"/><stop offset="0.4531" stop-color="#d6556d"/><stop offset="0.4688" stop-color="#d35171"/><stop offset="0.4844" stop-color="#cf4c74"/><stop offset="0.5000" stop-color="#cc4778"/><stop offset="0.5156" stop-color="#c8437b"/><stop offset="0.5312" stop-color="#c43e7f"/><stop offset="0.5469" stop-color="#c03a83"/><stop offset="0.5625" stop-color="#bc3587"/><stop offset="0.5781" stop-color="#b7318a"/><stop offset="0.5938" stop-color="#b32c8e"/><stop offset="0.6094" stop-color="#ae2892"/><stop offset="0.6250" stop-color="#aa2395"/><stop offset="0.6406" stop-color="#a51f99"/><stop offset="0.6562" stop-color="#a01a9c"/><stop offset="0.6719" stop-color="#9a169f"/><stop offset="0.6875" stop-color="#9511a1"/><stop offset="0.7031" stop-color="#8f0da4"/><stop offset="0.7188" stop-color="#8a09a5"/><stop offset="0.7344" stop-color="#8405a7"/><stop offset="0.7500" stop-color="#7e03a8"/><stop offset="0.7656" stop-color="#7801a8"/><stop offset="0.7812" stop-color="#7201a8"/><stop offset="0.7969" stop-color="#6c00a8"/><stop offset="0.8125" stop-color="#6600a7"/><stop offset="0.8281" stop-color="#6001a6"/><stop offset="0.8438" stop-color="#5901a5"/><stop offset="0.8594" stop-color="#5302a3"/><stop offset="0.8750" stop-color="#4c02a1"/><stop offset="0.8906" stop-color="#46039f"/><stop offset="0.9062" stop-color="#3f049c"/><stop offset="0.9219" stop-color="#38049a"/><stop offset="0.9375" stop-color="#310597"/><stop offset="0.9531" stop-color="#2a0593"/><stop offset="0.9688" stop-color="#220690"/><stop offset="0.9844" stop-color="#19068c"/><stop offset="1.0000" stop-color="#0d0887"/></linearGradient></defs>
<rect x="403.5" y="83.5" width="18.0" height="351.0" fill="url(#cb)" stroke="#000" stroke-width="1.1"/>
<line x1="421.5" y1="434.50" x2="427.10" y2="434.50" stroke="#000" stroke-width="1.1"/>
<text x="437.2" y="439.10" font-size="12.2" textLength="49.60" lengthAdjust="spacingAndGlyphs">&lt; 73.709</text>
<line x1="421.5" y1="419.50" x2="427.10" y2="419.50" stroke="#000" stroke-width="1.1"/>
<text x="437.2" y="424.10" font-size="12.2" textLength="13.56" lengthAdjust="spacingAndGlyphs">74</text>
<line x1="421.5" y1="365.50" x2="427.10" y2="365.50" stroke="#000" stroke-width="1.1"/>
<text x="437.2" y="370.10" font-size="12.2" textLength="13.56" lengthAdjust="spacingAndGlyphs">75</text>
<line x1="421.5" y1="312.50" x2="427.10" y2="312.50" stroke="#000" stroke-width="1.1"/>
<text x="437.2" y="317.10" font-size="12.2" textLength="13.56" lengthAdjust="spacingAndGlyphs">76</text>
<line x1="421.5" y1="259.50" x2="427.10" y2="259.50" stroke="#000" stroke-width="1.1"/>
<text x="437.2" y="264.10" font-size="12.2" textLength="13.56" lengthAdjust="spacingAndGlyphs">77</text>
<line x1="421.5" y1="206.50" x2="427.10" y2="206.50" stroke="#000" stroke-width="1.1"/>
<text x="437.2" y="211.10" font-size="12.2" textLength="13.56" lengthAdjust="spacingAndGlyphs">78</text>
<line x1="421.5" y1="153.50" x2="427.10" y2="153.50" stroke="#000" stroke-width="1.1"/>
<text x="437.2" y="158.10" font-size="12.2" textLength="13.56" lengthAdjust="spacingAndGlyphs">79</text>
<line x1="421.5" y1="100.50" x2="427.10" y2="100.50" stroke="#000" stroke-width="1.1"/>
<text x="437.2" y="105.10" font-size="12.2" textLength="13.56" lengthAdjust="spacingAndGlyphs">80</text>
<line x1="421.5" y1="83.50" x2="427.10" y2="83.50" stroke="#000" stroke-width="1.1"/>
<text x="437.2" y="88.10" font-size="12.2" textLength="49.60" lengthAdjust="spacingAndGlyphs">&gt; 80.321</text>
<text x="22.30" y="25.00" font-size="14" font-weight="bold" textLength="393.60" lengthAdjust="spacingAndGlyphs">MLW Sacramento R at Moulton Weir (crest 76.8&#39;;crest 76.2&#39;)</text>
<text x="86.50" y="43.80" font-size="14" font-weight="bold" textLength="265.20" lengthAdjust="spacingAndGlyphs">WY 1997-2025 Daily Average River Stage</text>
<text x="108.00" y="62.80" font-size="14" font-weight="bold" textLength="223.80" lengthAdjust="spacingAndGlyphs">Observed Range 73.709 : 80.321 ft</text>
<text x="4.8" y="489.0" font-size="11.6" fill="#2b3b47" textLength="210.20" lengthAdjust="spacingAndGlyphs">www.cbr.washington.edu/sacramento/</text>
<text x="496.2" y="489.0" text-anchor="end" font-size="11.6" fill="#2b3b47" textLength="146.42" lengthAdjust="spacingAndGlyphs">23 Nov 2025 15:46:55 PST</text></svg></body></html>
